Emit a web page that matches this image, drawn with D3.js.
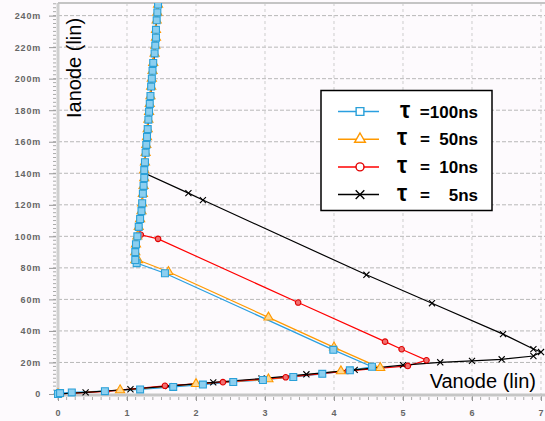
<!DOCTYPE html>
<html>
<head>
<meta charset="utf-8">
<script src="https://cdn.jsdelivr.net/npm/d3@7"></script>
<style>
  body { margin: 0; background: #fdfafd; }
  svg { display: block; font-family: "Liberation Sans", Arial, sans-serif; }
  .tick text { font-size: 9px; font-weight: bold; fill: #666; letter-spacing: 0.8px; }
  .legend text { font-weight: bold; fill: #000; }
</style>
</head>
<body>
<div id="chart"></div>
<script>
// tick values (V, mA)
const xTicks = [0, 1, 2, 3, 4, 5, 6, 7];
const yTicks = [0, 20, 40, 60, 80, 100, 120, 140, 160, 180, 200, 220, 240];

// snapback branch (V, mA)
const snapBranch = [
  [1.12, 85], [1.12, 90], [1.13, 95], [1.15, 100], [1.17, 106], [1.19, 111],
  [1.21, 116], [1.22, 121], [1.23, 127], [1.24, 132], [1.25, 137], [1.25, 142],
  [1.26, 147], [1.27, 153], [1.28, 158], [1.29, 163], [1.30, 168], [1.31, 174],
  [1.32, 179], [1.33, 184], [1.34, 189], [1.35, 195], [1.36, 200], [1.37, 205],
  [1.38, 210], [1.40, 216], [1.41, 221], [1.42, 226], [1.42, 231], [1.43, 237],
  [1.44, 242], [1.45, 247], [1.46, 252]
];

// each curve: rising branch, turn-back line (V, mA)
const tau100 = [
  [0, 0], [0.03, 0.6], [0.2, 1], [0.68, 1.8], [1.19, 2.9], [1.67, 4.5], [2.1, 6],
  [2.54, 7.6], [2.97, 8.9], [3.41, 10.8], [3.83, 12.8], [4.23, 15], [4.55, 17.3],
  [3.99, 28], [1.55, 76.6], [1.14, 83]
];
const tau50 = [
  [0, 0], [0.9, 2.5], [2, 6.4], [3.05, 9.4], [4.1, 14.5], [4.67, 16.6],
  [4.0, 29.6], [3.05, 48.6], [1.6, 77.5], [1.16, 85]
];
const tau10 = [
  [0, 0], [0.7, 1.7], [1.55, 5.2], [2.39, 7.5], [3.3, 10.6], [4.2, 14.6],
  [5.07, 17.8], [5.34, 21.4], [4.98, 28.4], [4.74, 33.2], [3.48, 58],
  [1.45, 98.4], [1.2, 101]
];
const tau5 = [
  [0, 0], [0.4, 1], [1.05, 3], [1.6, 5], [2.25, 7.4], [2.95, 9.8], [3.6, 12.5],
  [4.3, 15.3], [5.0, 18.3], [5.54, 20.1], [6.0, 21], [6.43, 22], [6.89, 24.1],
  [7.0, 26.6], [6.89, 28.5], [6.45, 38], [5.42, 57.6], [4.47, 75.6], [2.1, 123],
  [1.89, 127.4], [1.26, 140]
];
// current where each curve joins the snapback branch (mA)
const joinAt = [0, 0, 101, 140];

const tauLabels = ["100ns", "50ns", "10ns", "5ns"];
const colors = ["#2a9fe0", "#ff9900", "#ff0000", "#000000"];

const drawChart = () => {
  const size = { width: 545, height: 421 };
  const plot = { left: 58, right: 545, top: 3, bottom: 394 };

  const x = d3.scaleLinear().domain([0, 7.058]).range([plot.left, plot.right]);
  const y = d3.scaleLinear().domain([0, 248]).range([plot.bottom, plot.top]);

  const svg = d3.select("#chart").append("svg")
    .attr("width", size.width)
    .attr("height", size.height);

  svg.append("defs").append("clipPath").attr("id", "clip")
    .append("rect")
    .attr("x", plot.left - 4).attr("y", plot.top)
    .attr("width", plot.right - plot.left + 4)
    .attr("height", plot.bottom - plot.top + 6);

  // grid
  svg.append("g").selectAll("line").data(yTicks.slice(1)).join("line")
    .attr("x1", plot.left).attr("x2", plot.right)
    .attr("y1", d => y(d)).attr("y2", d => y(d))
    .attr("stroke", "#b8b8b8").attr("stroke-dasharray", "4,2");
  svg.append("g").selectAll("line").data(xTicks.slice(1)).join("line")
    .attr("x1", d => x(d)).attr("x2", d => x(d))
    .attr("y1", plot.top).attr("y2", plot.bottom)
    .attr("stroke", "#cdcdcd").attr("stroke-dasharray", "3,3");

  // minor ticks
  svg.append("g").selectAll("line").data(d3.range(0, 248, 2.5)).join("line")
    .attr("x1", plot.left - 5).attr("x2", plot.left - 2)
    .attr("y1", d => y(d)).attr("y2", d => y(d))
    .attr("stroke", "#aaa");
  svg.append("g").selectAll("line").data(d3.range(0, 7.05, 0.125)).join("line")
    .attr("x1", d => x(d)).attr("x2", d => x(d))
    .attr("y1", plot.bottom + 3).attr("y2", plot.bottom + 6)
    .attr("stroke", "#aaa");

  // axes
  const yAxis = d3.axisLeft(y)
    .tickValues(yTicks)
    .tickFormat(d => (d === 0 ? "0" : d + "m"))
    .tickSize(7)
    .tickPadding(8);
  const xAxis = d3.axisBottom(x)
    .tickValues(xTicks)
    .tickFormat(d => d)
    .tickSize(6)
    .tickPadding(9);

  const gy = svg.append("g").attr("transform", `translate(${plot.left - 2},0)`).call(yAxis);
  const gx = svg.append("g").attr("transform", `translate(0,${plot.bottom + 1})`).call(xAxis);
  [gy, gx].forEach(g => {
    g.select(".domain").remove();
    g.selectAll(".tick line").attr("stroke", "#999");
  });

  // frame
  svg.append("line")
    .attr("x1", plot.left).attr("x2", plot.left)
    .attr("y1", plot.top).attr("y2", plot.bottom + 2)
    .attr("stroke", "#cfcfcf").attr("stroke-width", 3);
  svg.append("line")
    .attr("x1", plot.left).attr("x2", plot.right)
    .attr("y1", plot.bottom + 1).attr("y2", plot.bottom + 1)
    .attr("stroke", "#c6c6c6").attr("stroke-width", 3);
  svg.append("line")
    .attr("x1", plot.left).attr("x2", plot.right)
    .attr("y1", plot.top).attr("y2", plot.top)
    .attr("stroke", "#c4c4c4").attr("stroke-width", 2);

  // axis titles
  svg.append("text")
    .attr("transform", "translate(81,118) rotate(-90)")
    .attr("font-size", 20)
    .text("Ianode (lin)");
  svg.append("text")
    .attr("x", 536).attr("y", 388)
    .attr("text-anchor", "end")
    .attr("font-size", 20)
    .text("Vanode (lin)");

  const curves = [tau100, tau50, tau10, tau5].map((pts, i) =>
    pts.concat(snapBranch.filter(p => p[1] > joinAt[i]))
  );
  const marked = [
    tau100.concat(snapBranch),
    tau50.concat(snapBranch),
    tau10,
    tau5
  ];

  const line = d3.line().x(d => x(d[0])).y(d => y(d[1]));
  const plotG = svg.append("g").attr("clip-path", "url(#clip)");

  plotG.selectAll("path.curve").data(curves).join("path")
    .attr("class", "curve")
    .attr("d", line)
    .attr("fill", "none")
    .attr("stroke", (d, i) => colors[i])
    .attr("stroke-width", 1.2);

  const shapes = [
    { type: d3.symbolSquare, size: 48, fill: "#8ccff0", stroke: "#2aa0d8" },
    { type: d3.symbolTriangle, size: 36, fill: "#ffd890", stroke: "#ff9900" },
    { type: d3.symbolCircle, size: 24, fill: "#f07070", stroke: "#e00000" },
    { type: d3.symbolX, size: 26, fill: "none", stroke: "#000" }
  ];

  // black first, blue squares on top
  [3, 2, 1, 0].forEach(i => {
    const s = shapes[i];
    plotG.append("g").selectAll("path").data(marked[i]).join("path")
      .attr("transform", d => `translate(${x(d[0])},${y(d[1])})`)
      .attr("d", d3.symbol(s.type, s.size))
      .attr("fill", s.fill)
      .attr("stroke", s.stroke)
      .attr("stroke-width", 1.1);
  });

  // legend
  const lg = svg.append("g").attr("class", "legend");
  lg.append("rect")
    .attr("x", 321).attr("y", 90.5)
    .attr("width", 171).attr("height", 120)
    .attr("fill", "#fff").attr("stroke", "#000").attr("stroke-width", 1.5);

  const rowY = d3.scalePoint().domain(tauLabels).range([111.5, 194.6]);
  const rows = lg.selectAll("g.row").data(tauLabels).join("g")
    .attr("class", "row")
    .attr("transform", d => `translate(0,${rowY(d)})`);
  rows.append("line")
    .attr("x1", 338).attr("x2", 379)
    .attr("stroke", (d, i) => colors[i])
    .attr("stroke-width", 1.5);
  rows.append("path")
    .attr("transform", "translate(360,0)")
    .attr("d", (d, i) => d3.symbol(shapes[i].type, i === 0 ? 60 : 50)())
    .attr("fill", "#fff")
    .attr("stroke", (d, i) => shapes[i].stroke)
    .attr("stroke-width", 1.4);
  rows.append("text")
    .attr("x", (d, i) => (i === 0 ? 400 : 397))
    .attr("y", 6)
    .attr("font-size", 23)
    .text("τ");
  rows.append("text")
    .attr("x", 420).attr("y", 6)
    .attr("font-size", 17)
    .text((d, i) => (i === 0 ? "" : "="));
  rows.append("text")
    .attr("x", 478).attr("y", 6)
    .attr("text-anchor", "end")
    .attr("font-size", 17)
    .text((d, i) => (i === 0 ? "=" + d : d));
};

window.onload = drawChart;
</script>
</body>
</html>
